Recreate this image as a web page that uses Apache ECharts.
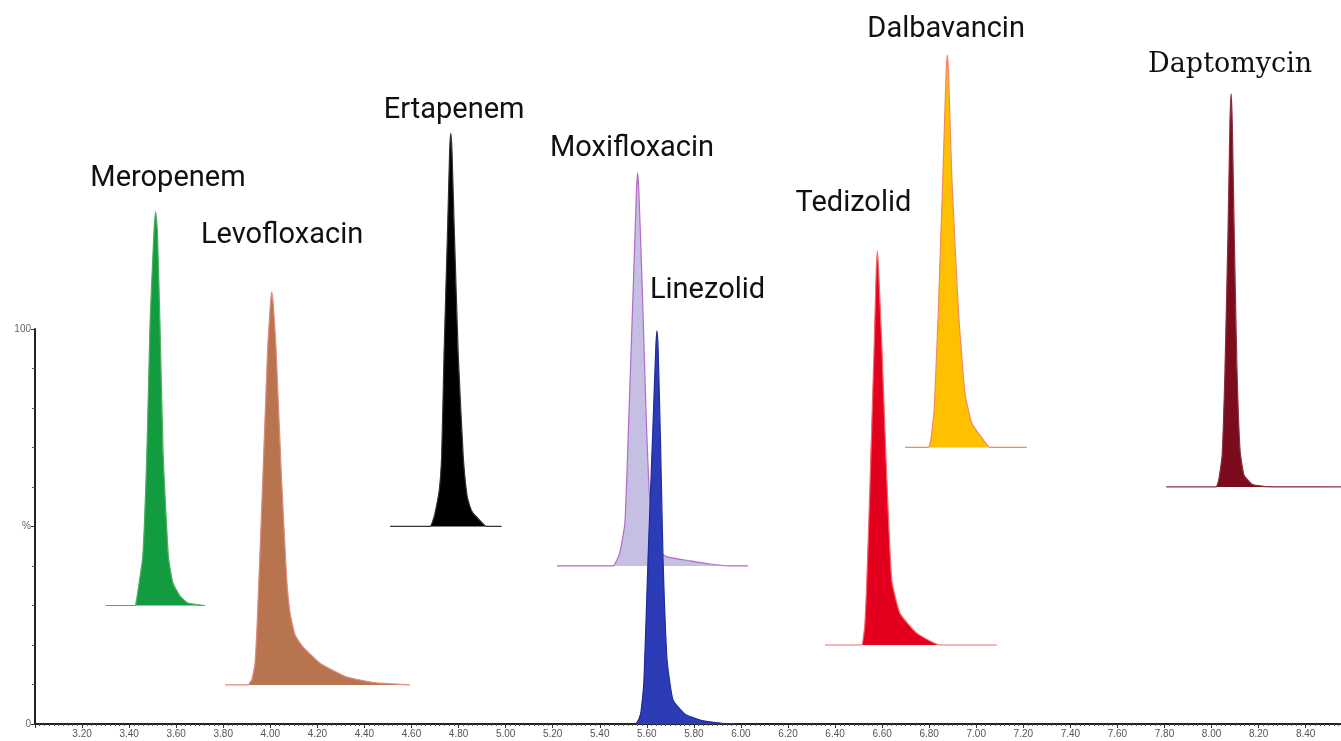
<!DOCTYPE html>
<html>
<head>
<meta charset="utf-8">
<script src="https://cdn.jsdelivr.net/npm/echarts@6/dist/echarts.min.js"></script>
<style>html,body{margin:0;padding:0;background:#fff;}#c{width:1341px;height:741px;}</style>
</head>
<body>
<div id="c"></div>
<script>
// Retention time (min) and relative intensity (%); each trace is stacked on its own baseline.
var names = ['Meropenem','Levofloxacin','Ertapenem','Moxifloxacin','Linezolid','Tedizolid','Dalbavancin','Daptomycin'];
var baselines = [30, 9.9, 50, 40, 0, 20, 70, 60];

var meropenem = [[3.30,30],[3.425,30],[3.431,31.2],[3.438,33.9],[3.458,42.3],[3.475,67.6],[3.489,101.5],[3.506,125],[3.513,129.6],[3.520,125],[3.531,101.5],[3.545,67.6],[3.567,42.3],[3.586,35.7],[3.616,32.4],[3.650,30.6],[3.722,30]];
var levofloxacin = [[3.808,9.9],[3.907,9.9],[3.914,10.6],[3.921,11.1],[3.935,15.4],[3.946,28.1],[3.968,61.8],[3.989,95.5],[4.000,106],[4.006,109.4],[4.013,106],[4.024,95.5],[4.048,61.8],[4.070,36.4],[4.084,28.1],[4.105,22.6],[4.139,19.5],[4.211,15.4],[4.325,11.9],[4.452,10.4],[4.594,9.9]];
var ertapenem = [[4.509,50],[4.679,50],[4.690,51.3],[4.700,53.4],[4.718,59.2],[4.728,67.6],[4.738,92.9],[4.754,126.7],[4.762,145],[4.767,149.5],[4.772,145],[4.781,126.7],[4.799,92.9],[4.820,67.6],[4.837,57.5],[4.855,54.0],[4.877,52.4],[4.920,50],[4.983,50]];
var moxifloxacin = [[5.218,40],[5.456,40],[5.472,41.4],[5.486,43.5],[5.507,50.9],[5.524,78.5],[5.545,115.2],[5.556,135],[5.561,139.5],[5.566,135],[5.578,115.2],[5.597,78.5],[5.609,60.0],[5.626,49.1],[5.656,43.5],[5.686,42.3],[5.784,41.3],[5.869,40.5],[5.946,40],[6.030,40]];
var linezolid = [[5.554,0],[5.566,1.2],[5.575,3.0],[5.588,11.1],[5.605,41.5],[5.624,71.9],[5.638,95],[5.643,99.5],[5.648,95],[5.658,71.9],[5.669,41.5],[5.686,16.2],[5.711,6.1],[5.762,2.5],[5.826,1.0],[5.911,0.25],[5.983,0]];
var tedizolid = [[6.357,20],[6.513,20],[6.520,21.8],[6.527,25.5],[6.535,36.4],[6.549,61.8],[6.566,95.5],[6.575,115],[6.580,119.7],[6.585,115],[6.599,95.5],[6.620,61.8],[6.641,36.4],[6.676,28.0],[6.747,23.0],[6.846,20],[7.087,20]];
var dalbavancin = [[6.697,70],[6.796,70],[6.802,70.6],[6.807,71.9],[6.821,79.5],[6.839,104.8],[6.858,138.5],[6.872,165],[6.877,169.3],[6.882,165],[6.896,138.5],[6.924,104.8],[6.952,83.7],[6.981,76.1],[7.030,71.9],[7.059,70],[7.215,70]];
var daptomycin = [[7.807,60],[8.019,60],[8.026,60.8],[8.032,62.3],[8.045,68.1],[8.057,89.6],[8.070,125.0],[8.078,152],[8.083,159.5],[8.088,152],[8.096,125.0],[8.108,89.6],[8.121,69.3],[8.138,63.0],[8.172,60.7],[8.227,60.1],[8.55,60]];

// label anchor points (time, %)
var labelPos = [[3.565,137.9],[4.050,123.7],[4.781,155.1],[5.537,145.7],[5.858,109.6],[6.478,131.6],[6.872,175.6],[8.079,166.8]];

var xTickLabels = ['3.20','3.40','3.60','3.80','4.00','4.20','4.40','4.60','4.80','5.00','5.20','5.40','5.60','5.80','6.00','6.20','6.40','6.60','6.80','7.00','7.20','7.40','7.60','7.80','8.00','8.20','8.40'];

var traces = [meropenem, levofloxacin, ertapenem, moxifloxacin, linezolid, tedizolid, dalbavancin, daptomycin];
var fills = ['#129b3f','#b8744f','#000000','#c5bfe4','#2c3cb6','#e3001e','#ffc000','#7b0c1d'];
var lines = ['#4cae5e','#e08a80','#333333','#b46ac6','#1f2c9c','#f26a6a','#f08a60','#8c3040'];

var series = traces.map(function (d, i) {
  return {
    type: 'line', name: names[i], data: d, xAxisIndex: 1, yAxisIndex: 1,
    showSymbol: false, symbol: 'none', silent: true, smooth: 0.15,
    lineStyle: { color: lines[i], width: 1.2 },
    areaStyle: { color: fills[i], opacity: 1, origin: baselines[i] },
    z: 2 + i
  };
});

series.push({
  type: 'scatter', xAxisIndex: 1, yAxisIndex: 1, symbolSize: 0, silent: true, z: 20,
  itemStyle: { opacity: 1 },
  data: labelPos.map(function (p, i) {
    var o = { value: p, name: names[i] };
    if (names[i] === 'Daptomycin') {
      o.label = { fontFamily: 'DejaVu Serif', fontSize: 27, color: '#111' };
    }
    return o;
  }),
  label: { show: true, position: 'inside', formatter: '{b}', color: '#111', opacity: 1, fontFamily: 'Roboto', fontSize: 29 }
});

var chart = echarts.init(document.getElementById('c'), null, { renderer: 'canvas' });
chart.setOption({
  animation: false,
  backgroundColor: '#ffffff',
  grid: [
    { left: 35, right: 0, top: 329, bottom: 17, containLabel: false },
    { left: 35, right: 0, top: 1, bottom: 17, containLabel: false }
  ],
  xAxis: [
    {
      type: 'value', gridIndex: 0, min: 3.0, max: 8.55, interval: 0.2,
      axisLine: { show: true, lineStyle: { color: '#222', width: 2 } },
      axisTick: { show: true, length: 4, lineStyle: { color: '#333' } },
      minorTick: { show: true, splitNumber: 10, length: 2, lineStyle: { color: '#555' } },
      splitLine: { show: false },
      axisLabel: {
        color: '#555', fontSize: 10, fontFamily: 'Liberation Sans', margin: 5,
        showMinLabel: false, showMaxLabel: false,
        formatter: function (v) { var s = v.toFixed(2); return xTickLabels.indexOf(s) >= 0 ? s : ''; }
      }
    },
    { type: 'value', gridIndex: 1, min: 3.0, max: 8.55, show: false }
  ],
  yAxis: [
    {
      type: 'value', gridIndex: 0, min: 0, max: 100, interval: 50,
      axisLine: { show: true, lineStyle: { color: '#222', width: 2 } },
      axisTick: { show: true, length: 4, lineStyle: { color: '#333' } },
      minorTick: { show: true, splitNumber: 5, length: 3, lineStyle: { color: '#555' } },
      splitLine: { show: false },
      axisLabel: {
        color: '#666', fontSize: 10, fontFamily: 'Liberation Sans', margin: 4,
        formatter: function (v) { return v === 50 ? '%' : String(v); }
      }
    },
    { type: 'value', gridIndex: 1, min: 0, max: 183, show: false }
  ],
  series: series
});
</script>
</body>
</html>
